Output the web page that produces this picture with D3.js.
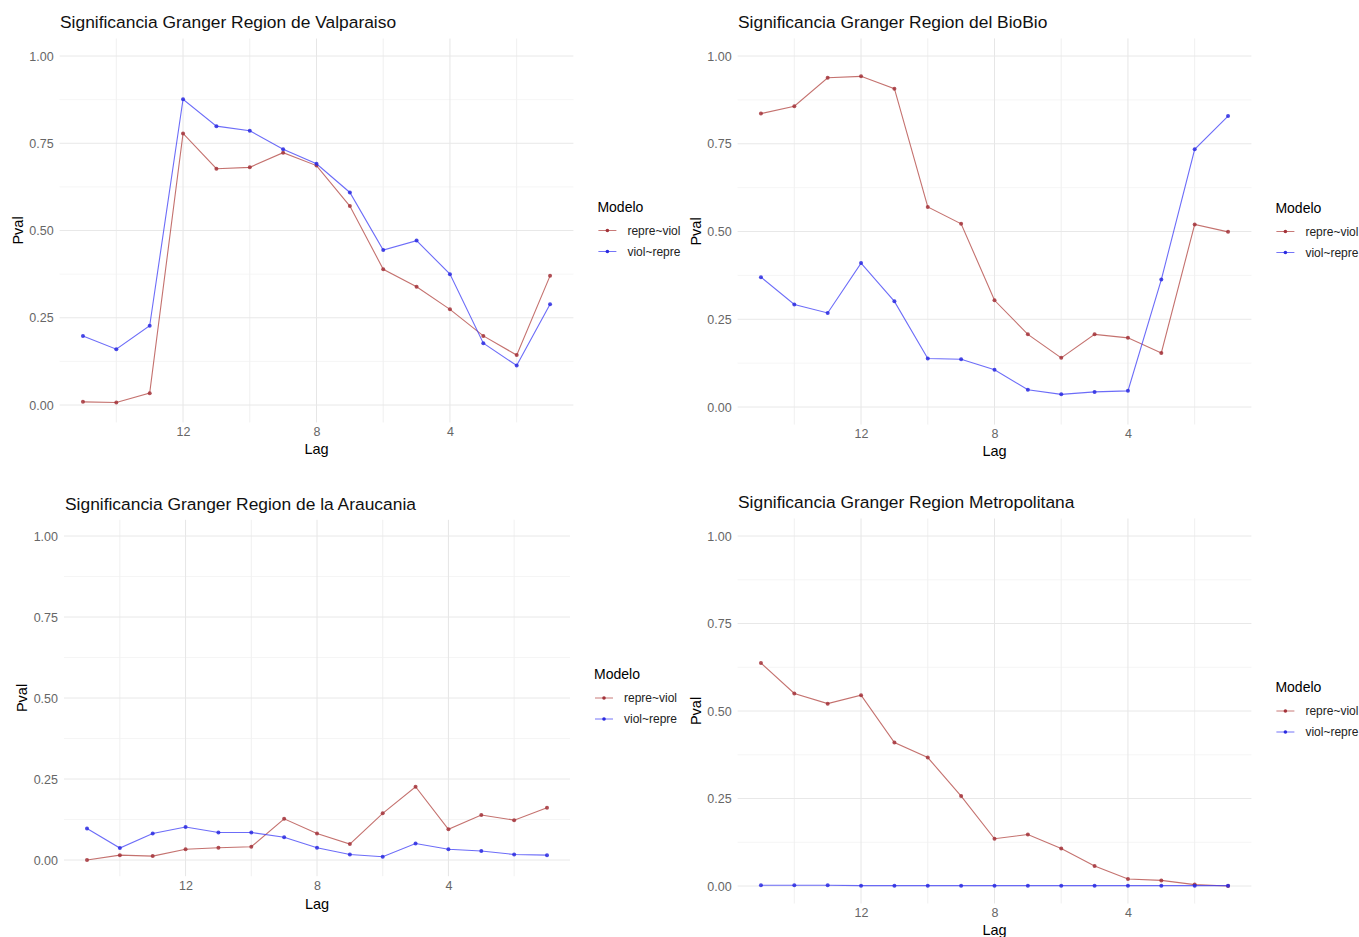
<!DOCTYPE html>
<html>
<head>
<meta charset="utf-8">
<script src="https://cdn.jsdelivr.net/npm/d3@7"></script>
<style>
	body { margin: 0; background: #fff; }
	svg { font-family: "Liberation Sans", Arial, sans-serif; }
</style>
</head>
<body>
<svg id="chart" width="1359" height="937"></svg>
<script>
/*
Data
*/
const lags = [15, 14, 13, 12, 11, 10, 9, 8, 7, 6, 5, 4, 3, 2, 1];
const xTicks = [12, 8, 4];
const yTicks = [0, 0.25, 0.5, 0.75, 1];
const modelos = ["repre~viol", "viol~repre"];

const titles = [
	"Significancia Granger Region de Valparaiso",
	"Significancia Granger Region del BioBio",
	"Significancia Granger Region de la Araucania",
	"Significancia Granger Region Metropolitana"
];

const valparaisoRepre = [0.009, 0.007, 0.034, 0.778, 0.677, 0.681, 0.723, 0.686, 0.570, 0.389, 0.339, 0.274, 0.198, 0.143, 0.370];
const valparaisoViol = [0.198, 0.160, 0.227, 0.876, 0.799, 0.786, 0.733, 0.691, 0.609, 0.444, 0.471, 0.375, 0.177, 0.113, 0.289];
const biobioRepre = [0.836, 0.857, 0.938, 0.942, 0.907, 0.570, 0.522, 0.304, 0.207, 0.140, 0.207, 0.197, 0.154, 0.520, 0.499];
const biobioViol = [0.370, 0.292, 0.268, 0.410, 0.301, 0.138, 0.136, 0.106, 0.049, 0.036, 0.043, 0.046, 0.363, 0.734, 0.829];
const araucaniaRepre = [0.000, 0.015, 0.012, 0.033, 0.038, 0.041, 0.127, 0.082, 0.049, 0.144, 0.226, 0.095, 0.139, 0.123, 0.161];
const araucaniaViol = [0.097, 0.037, 0.082, 0.102, 0.085, 0.085, 0.070, 0.038, 0.017, 0.010, 0.051, 0.033, 0.028, 0.017, 0.015];
const metroRepre = [0.637, 0.550, 0.521, 0.545, 0.410, 0.367, 0.257, 0.135, 0.147, 0.107, 0.057, 0.020, 0.016, 0.004, 0.000];
const metroViol = [0.002, 0.002, 0.002, 0.001, 0.001, 0.001, 0.001, 0.001, 0.001, 0.001, 0.001, 0.001, 0.001, 0.001, 0.001];

/*
Panel layout
*/
const panels = [
	{ title: titles[0], series: [valparaisoRepre, valparaisoViol], left: 59.6, right: 573.4, y0: 405, y1: 56, titleX: 60, titleY: 28 },
	{ title: titles[1], series: [biobioRepre, biobioViol], left: 737.6, right: 1251.4, y0: 407, y1: 56, titleX: 738, titleY: 28 },
	{ title: titles[2], series: [araucaniaRepre, araucaniaViol], left: 64, right: 570, y0: 860, y1: 536, titleX: 65, titleY: 510 },
	{ title: titles[3], series: [metroRepre, metroViol], left: 737.6, right: 1251.4, y0: 886, y1: 536, titleX: 738, titleY: 508 }
];

const lineColors = ["#b0413e", "#3b3bf5"];
const pointColors = ["#a3333a", "#2a2ae0"];

const svg = d3.select("#chart");

panels.forEach((p) => {
	const g = svg.append("g");
	const x = d3.scaleLinear().domain([15.7, 0.3]).range([p.left, p.right]);
	const y = d3.scaleLinear().domain([0, 1]).range([p.y0, p.y1]);
	const top = y(1.05), bottom = y(-0.05);

	// minor grid
	g.selectAll(".vminor")
		.data([14, 10, 6, 2])
		.enter().append("line")
		.attr("x1", (d) => x(d)).attr("x2", (d) => x(d))
		.attr("y1", top).attr("y2", bottom)
		.attr("stroke", "#ececec").attr("stroke-width", 0.8);
	g.selectAll(".hminor")
		.data([0.125, 0.375, 0.625, 0.875])
		.enter().append("line")
		.attr("x1", p.left).attr("x2", p.right)
		.attr("y1", (d) => y(d)).attr("y2", (d) => y(d))
		.attr("stroke", "#f1f1f1").attr("stroke-width", 0.7);
	// major grid
	g.selectAll(".vmajor")
		.data(xTicks)
		.enter().append("line")
		.attr("x1", (d) => x(d)).attr("x2", (d) => x(d))
		.attr("y1", top).attr("y2", bottom)
		.attr("stroke", "#e6e6e6").attr("stroke-width", 1);
	g.selectAll(".hmajor")
		.data(yTicks)
		.enter().append("line")
		.attr("x1", p.left).attr("x2", p.right)
		.attr("y1", (d) => y(d)).attr("y2", (d) => y(d))
		.attr("stroke", "#e8e8e8").attr("stroke-width", 1);

	// axes via d3 axis, then strip the domain and ticks
	const xAxis = g.append("g")
		.attr("transform", `translate(0,${bottom})`)
		.call(d3.axisBottom(x).tickValues(xTicks).tickSize(0).tickPadding(5));
	const yAxis = g.append("g")
		.attr("transform", `translate(${p.left},0)`)
		.call(d3.axisLeft(y).tickValues(yTicks).tickFormat(d3.format(".2f")).tickSize(0).tickPadding(6));
	[xAxis, yAxis].forEach((a) => {
		a.select(".domain").remove();
		a.selectAll("text")
			.attr("fill", "#666")
			.style("font-size", "12.5px")
			.style("font-family", "Liberation Sans, Arial, sans-serif");
	});

	// axis titles
	g.append("text")
		.attr("x", (p.left + p.right) / 2)
		.attr("y", p.y0 + 49)
		.attr("text-anchor", "middle")
		.attr("font-size", 14.5)
		.text("Lag");
	g.append("text")
		.attr("transform", `translate(${p.left - 37},${(p.y0 + p.y1) / 2}) rotate(-90)`)
		.attr("text-anchor", "middle")
		.attr("font-size", 14.5)
		.text("Pval");

	// title
	g.append("text")
		.attr("x", p.titleX)
		.attr("y", p.titleY)
		.attr("font-size", 17.4)
		.attr("fill", "#111")
		.text(p.title);

	// series
	const line = d3.line()
		.x((d, i) => x(lags[i]))
		.y((d) => y(d));
	p.series.forEach((vals, s) => {
		g.append("path")
			.datum(vals)
			.attr("d", line)
			.attr("fill", "none")
			.attr("stroke", lineColors[s])
			.attr("stroke-opacity", 0.75)
			.attr("stroke-width", 1.1);
		g.selectAll(`.pt${s}`)
			.data(vals)
			.enter().append("circle")
			.attr("cx", (d, i) => x(lags[i]))
			.attr("cy", (d) => y(d))
			.attr("r", 2)
			.attr("fill", pointColors[s])
			.attr("fill-opacity", 0.85);
	});

	// legend
	const lx = p.right + 24;
	const ly = (p.y0 + p.y1) / 2;
	g.append("text")
		.attr("x", lx)
		.attr("y", ly - 19)
		.attr("font-size", 14)
		.text("Modelo");
	modelos.forEach((m, s) => {
		const yy = ly + s * 21;
		g.append("line")
			.attr("x1", lx + 1).attr("x2", lx + 19)
			.attr("y1", yy).attr("y2", yy)
			.attr("stroke", lineColors[s])
			.attr("stroke-opacity", 0.7)
			.attr("stroke-width", 1);
		g.append("circle")
			.attr("cx", lx + 10).attr("cy", yy).attr("r", 1.8)
			.attr("fill", pointColors[s]);
		g.append("text")
			.attr("x", lx + 30)
			.attr("y", yy + 4)
			.attr("font-size", 12)
			.attr("fill", "#222")
			.text(m);
	});
});
</script>
</body>
</html>
